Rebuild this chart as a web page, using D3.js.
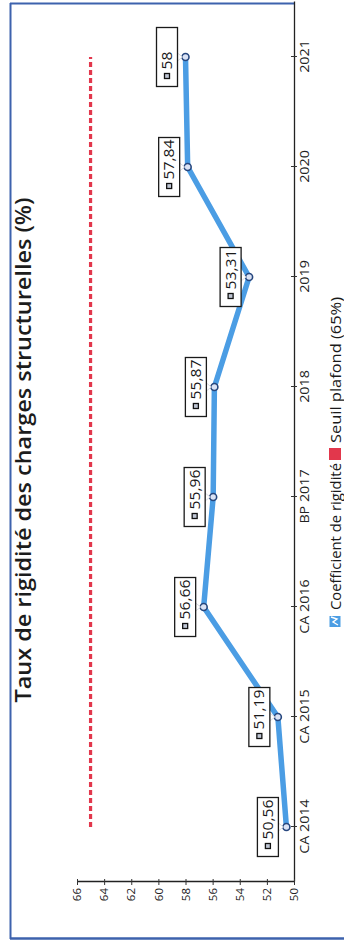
<!DOCTYPE html>
<html>
<head>
<meta charset="utf-8">
<script src="https://cdn.jsdelivr.net/npm/d3@7"></script>
<style>
  html, body { margin: 0; padding: 0; background: #ffffff; }
  svg { display: block; }
  text { font-family: "Open Sans", "DejaVu Sans", sans-serif; }
</style>
</head>
<body>
<svg id="chart" width="344" height="941"></svg>
<script>
const categories = ["CA 2014", "CA 2015", "CA 2016", "BP 2017", "2018", "2019", "2020", "2021"];
const rigidite = [50.56, 51.19, 56.66, 55.96, 55.87, 53.31, 57.84, 58];
const seuil = [65, 65, 65, 65, 65, 65, 65, 65];
const yTicks = [50, 52, 54, 56, 58, 60, 62, 64, 66];
const title = "Taux de rigidité des charges structurelles (%)";
const legendLabels = ["Coefficient de rigidité", "Seuil plafond (65%)"];

const svg = d3.select("#chart");
const W = 941; // chart width (rotated)

function stretch(sel, r) {
  sel.each(function () {
    const n = this.getComputedTextLength();
    d3.select(this).attr("textLength", n * r).attr("lengthAdjust", "spacingAndGlyphs");
  });
}

// outer frame (image coords)
svg.append("line").attr("x1", 10.5).attr("x2", 10.5).attr("y1", 3).attr("y2", 939)
  .attr("stroke", "#3d62ad").attr("stroke-width", 2);
svg.append("line").attr("x1", 10).attr("x2", 294).attr("y1", 3.5).attr("y2", 3.5)
  .attr("stroke", "#3d62ad").attr("stroke-width", 2);
svg.append("line").attr("x1", 10).attr("x2", 344).attr("y1", 938.5).attr("y2", 938.5)
  .attr("stroke", "#3d62ad").attr("stroke-width", 2.5);

// rotated chart group
const g = svg.append("g").attr("transform", `translate(0,${W}) rotate(-90)`);

const x = d3.scalePoint().domain(categories).range([59, 939]).padding(0.5);
const y = d3.scaleLinear().domain([50, 66]).range([294, 77]);

// title
g.append("text").attr("x", 491).attr("y", 31).attr("text-anchor", "middle")
  .attr("font-size", 22).attr("font-weight", 600).attr("fill", "#1c1c1c")
  .attr("textLength", 505).attr("lengthAdjust", "spacingAndGlyphs").text(title);

// x axis
const xAxis = g.append("g").attr("transform", "translate(0,294)")
  .call(d3.axisBottom(x).tickSize(3).tickSizeOuter(0).tickPadding(3));
xAxis.select(".domain").attr("stroke", "#222").attr("stroke-width", 1.3);
xAxis.selectAll(".tick line").attr("y1", -3).attr("y2", 3).attr("stroke", "#333");
xAxis.selectAll(".tick text").attr("font-size", 13).attr("fill", "#222")
  .attr("font-family", "'Open Sans', sans-serif");
stretch(xAxis.selectAll(".tick text"), 1.1);

// y axis
const yAxis = g.append("g").attr("transform", "translate(59,0)")
  .call(d3.axisLeft(y).tickValues(yTicks).tickSize(3).tickSizeOuter(0).tickPadding(3));
yAxis.select(".domain").attr("stroke", "#222").attr("stroke-width", 1.3);
yAxis.selectAll(".tick line").attr("x1", -3).attr("x2", 3).attr("stroke", "#333");
yAxis.selectAll(".tick text").attr("font-size", 11.5).attr("fill", "#222")
  .attr("font-family", "'Open Sans', sans-serif");

// threshold dashed line
const line = d3.line().x((d, i) => x(categories[i])).y(d => y(d));
g.append("path").datum(seuil).attr("d", line).attr("fill", "none")
  .attr("stroke", "#e2374c").attr("stroke-width", 3.2).attr("stroke-dasharray", "5,3");

// main line
g.append("path").datum(rigidite).attr("d", line).attr("fill", "none")
  .attr("stroke", "#4b9de4").attr("stroke-width", 5.5)
  .attr("stroke-linejoin", "round").attr("stroke-linecap", "round");

// markers
g.selectAll("circle.pt").data(rigidite).join("circle").attr("class", "pt")
  .attr("cx", (d, i) => x(categories[i])).attr("cy", d => y(d)).attr("r", 3.5)
  .attr("fill", "#dbe3f5").attr("stroke", "#27477e").attr("stroke-width", 1.6);

// data labels
const lab = g.selectAll("g.lab").data(rigidite).join("g").attr("class", "lab")
  .attr("transform", (d, i) => `translate(${x(categories[i])},${y(d)})`);
lab.append("path").attr("d", "M-4,-8L4,-8L0,-3Z").attr("fill", "#ffffff").attr("stroke", "#d0d4dc").attr("stroke-width", 0.8);
lab.append("rect").attr("x", -29.5).attr("y", -29).attr("width", 59).attr("height", 21)
  .attr("fill", "#ffffff").attr("stroke", "#1a1a1a").attr("stroke-width", 1.3);
lab.append("rect").attr("x", -21.5).attr("y", -21).attr("width", 5).attr("height", 5)
  .attr("fill", "#bfc6d4").attr("stroke", "#111").attr("stroke-width", 1.3);
const labText = lab.append("text").attr("x", -12.5).attr("y", -13.5).attr("font-size", 14).attr("fill", "#1a1a1a")
  .text(d => String(d).replace(".", ","));
stretch(labText, 1.12);

// legend
const leg = g.append("g").attr("transform", "translate(0,335)");
leg.append("rect").attr("x", 314).attr("y", -5.5).attr("width", 11).attr("height", 11).attr("fill", "#4b9de4");
leg.append("polyline").attr("points", "316,3 319,-2 322,2 324,-4")
  .attr("fill", "none").attr("stroke", "#ffffff").attr("stroke-width", 1.4);
leg.append("text").attr("x", 331).attr("y", 5.5).attr("font-size", 14).attr("fill", "#1a1a1a")
  .attr("textLength", 147).attr("lengthAdjust", "spacingAndGlyphs").text(legendLabels[0]);
leg.append("rect").attr("x", 481).attr("y", -6).attr("width", 12).attr("height", 12).attr("fill", "#e2374c");
leg.append("text").attr("x", 498).attr("y", 5.5).attr("font-size", 14).attr("fill", "#1a1a1a")
  .attr("textLength", 146).attr("lengthAdjust", "spacingAndGlyphs").text(legendLabels[1]);
</script>
</body>
</html>
